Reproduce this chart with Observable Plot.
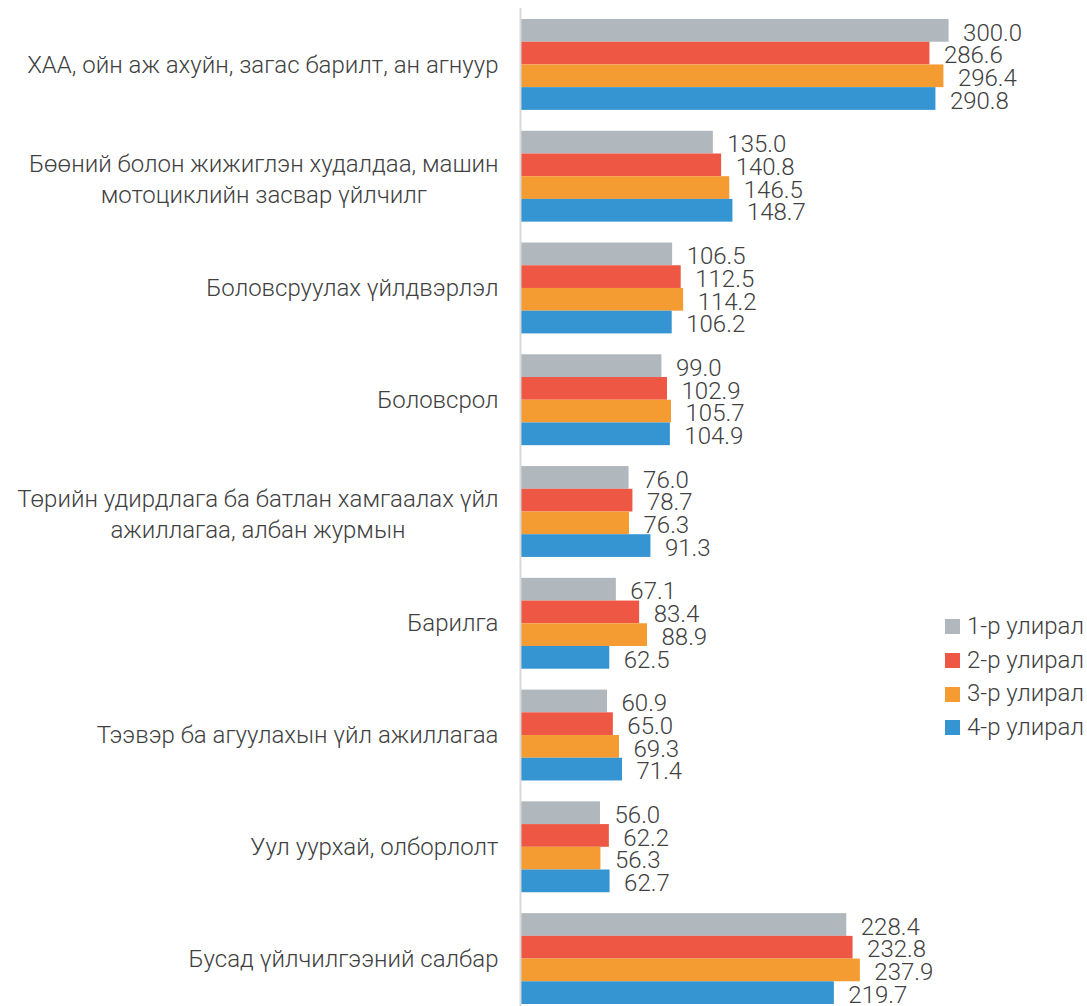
<!DOCTYPE html>
<html>
<head>
<meta charset="utf-8">
<script src="https://cdn.jsdelivr.net/npm/d3@7"></script>
<script src="https://cdn.jsdelivr.net/npm/@observablehq/plot@0.6"></script>
<style>
  body { margin: 0; background: #fff; }
  #wrap { position: relative; width: 1087px; height: 1006px; font-family: Roboto, sans-serif; font-weight: 300; color: #404040; }
  #legend { position: absolute; left: 945px; top: 610px; font-size: 24px; line-height: 33.7px; }
  #legend .item { display: flex; align-items: center; white-space: nowrap; }
  #legend .sw { width: 15px; height: 15px; margin-right: 7px; display: inline-block; }
</style>
</head>
<body>
<div id="wrap"></div>
<script>
const categories = [
  "ХАА, ойн аж ахуйн, загас барилт, ан агнуур",
  "Бөөний болон жижиглэн худалдаа, машин\nмотоциклийн засвар үйлчилг",
  "Боловсруулах үйлдвэрлэл",
  "Боловсрол",
  "Төрийн удирдлага ба батлан хамгаалах үйл\nажиллагаа, албан журмын",
  "Барилга",
  "Тээвэр ба агуулахын үйл ажиллагаа",
  "Уул уурхай, олборлолт",
  "Бусад үйлчилгээний салбар"
];
const seriesNames = ["1-р улирал", "2-р улирал", "3-р улирал", "4-р улирал"];
const q1 = [300.0, 135.0, 106.5, 99.0, 76.0, 67.1, 60.9, 56.0, 228.4];
const q2 = [286.6, 140.8, 112.5, 102.9, 78.7, 83.4, 65.0, 62.2, 232.8];
const q3 = [296.4, 146.5, 114.2, 105.7, 76.3, 88.9, 69.3, 56.3, 237.9];
const q4 = [290.8, 148.7, 106.2, 104.9, 91.3, 62.5, 71.4, 62.7, 219.7];
const colors = ["#b0b7bd", "#ee5744", "#f49c31", "#3595d2"];

const seriesValues = [q1, q2, q3, q4];
const data = [];
categories.forEach((c, i) => {
  seriesValues.forEach((vals, s) => {
    data.push({category: c, series: seriesNames[s], value: vals[i]});
  });
});

const chart = Plot.plot({
  width: 1087,
  height: 1006,
  marginLeft: 520,
  marginRight: 67,
  marginTop: 19,
  marginBottom: 2,
  style: {fontFamily: "Roboto, sans-serif", fontWeight: 300, fontSize: "24px", color: "#404040", background: "#fff"},
  x: {domain: [0, 350], axis: null},
  y: {domain: seriesNames, axis: null, padding: 0, round: false},
  fy: {domain: categories, axis: "left", label: null, tickSize: 0, tickPadding: 22, paddingInner: 0.187, paddingOuter: 0, round: false},
  color: {domain: seriesNames, range: colors},
  marks: [
    Plot.barX(data, {fy: "category", y: "series", x: "value", fill: "series"}),
    Plot.text(data, {fy: "category", y: "series", x: "value", text: d => d.value.toFixed(1), textAnchor: "start", dx: 14, dy: 2, fill: "#404040"}),
    Plot.ruleX([0], {stroke: "#d9d9d9", strokeWidth: 2, insetTop: -11, insetBottom: -11})
  ]
});

const wrap = document.getElementById("wrap");
wrap.appendChild(chart);

// center multi-line category labels with wider line spacing (as in the original)
chart.querySelectorAll("text").forEach(t => {
  const spans = t.querySelectorAll("tspan");
  const n = spans.length;
  if (n > 1) {
    let maxW = 0;
    spans.forEach(s => { maxW = Math.max(maxW, s.getComputedTextLength()); });
    t.setAttribute("text-anchor", "middle");
    t.removeAttribute("y");
    spans.forEach((s, i) => {
      s.setAttribute("x", -maxW / 2);
      s.removeAttribute("y");
      s.setAttribute("dy", i === 0 ? `${0.45 - (n - 1) / 2 * 1.3}em` : "1.3em");
    });
  }
});

const legend = document.createElement("div");
legend.id = "legend";
seriesNames.forEach((n, i) => {
  const item = document.createElement("div");
  item.className = "item";
  const sw = document.createElement("span");
  sw.className = "sw";
  sw.style.background = colors[i];
  item.appendChild(sw);
  item.appendChild(document.createTextNode(n));
  legend.appendChild(item);
});
wrap.appendChild(legend);
</script>
</body>
</html>
